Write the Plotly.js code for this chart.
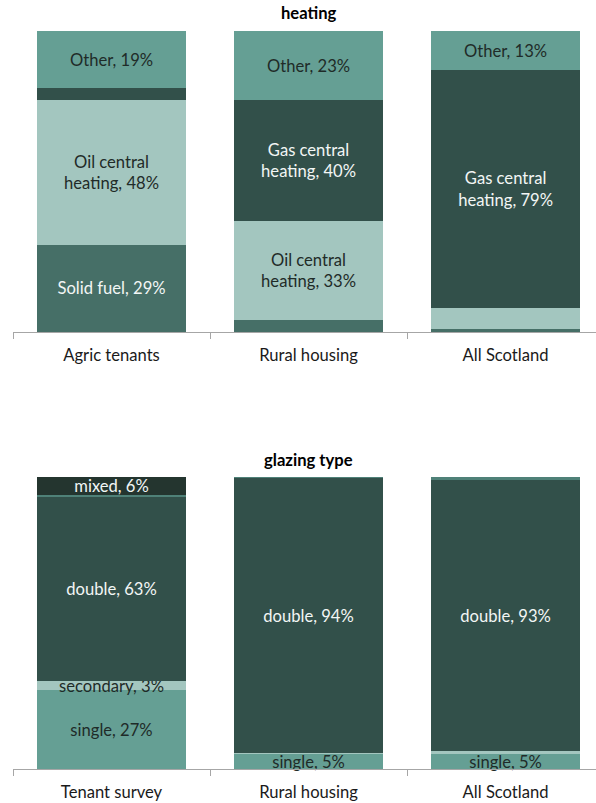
<!DOCTYPE html>
<html>
<head>
<meta charset="utf-8">
<script src="https://cdn.plot.ly/plotly-3.0.1.min.js"></script>
<style>
  html, body { margin: 0; padding: 0; background: #ffffff; }
  #chart { width: 596px; height: 803px; }
</style>
</head>
<body>
<div id="chart"></div>
<script>
// Heating: share of households by main heating type (%)
const heatingCategories = ["Agric tenants", "Rural housing", "All Scotland"];
const heatingSolidFuel = [29, 4, 1];
const heatingOilCentral = [48, 33, 7];
const heatingGasCentral = [4, 40, 79];
const heatingOther = [19, 23, 13];

// Which segments carry a text label
const heatingSolidFuelLabelled = [true, false, false];
const heatingOilCentralLabelled = [true, true, false];
const heatingGasCentralLabelled = [false, true, true];
const heatingOtherLabelled = [true, true, true];

// Glazing type: share of dwellings (%)
const glazingCategories = ["Tenant survey", "Rural housing", "All Scotland"];
const glazingSingle = [27, 5, 5];
const glazingSecondary = [3, 0.5, 1];
const glazingDouble = [63, 94, 93];
const glazingUnknown = [1, 0.5, 1];
const glazingMixed = [6, 0, 0];

const glazingSingleLabelled = [true, true, true];
const glazingSecondaryLabelled = [true, false, false];
const glazingDoubleLabelled = [true, true, true];
const glazingUnknownLabelled = [false, false, false];
const glazingMixedLabelled = [true, false, false];

const FONT = "Lato, 'Open Sans', sans-serif";
const FONT_SIZE = 16.6;
const DARK_TEXT = "#1f2b28";
const LIGHT_TEXT = "#f2f6f5";
const BAR_WIDTH = 0.756;

function labels(name, values, shown) {
  return values.map((v, i) => shown[i] ? name + ", " + v + "%" : "");
}

function segment(xCats, values, name, shown, color, textColor, axes) {
  return {
    type: "bar",
    x: xCats,
    y: values,
    name: name,
    width: xCats.map(() => BAR_WIDTH),
    marker: { color: color, line: { width: 0 } },
    text: labels(name.replace(" heating", "<br>heating"), values, shown),
    textposition: "inside",
    insidetextanchor: "middle",
    textangle: 0,
    constraintext: "none",
    cliponaxis: false,
    textfont: { family: FONT, size: FONT_SIZE, color: textColor },
    hoverinfo: "skip",
    showlegend: false,
    xaxis: axes[0],
    yaxis: axes[1]
  };
}

const heatingAxes = ["x", "y"];
const glazingAxes = ["x2", "y2"];

const traces = [
  segment(heatingCategories, heatingSolidFuel, "Solid fuel", heatingSolidFuelLabelled, "#466f67", LIGHT_TEXT, heatingAxes),
  segment(heatingCategories, heatingOilCentral, "Oil central heating", heatingOilCentralLabelled, "#a3c6bf", DARK_TEXT, heatingAxes),
  segment(heatingCategories, heatingGasCentral, "Gas central heating", heatingGasCentralLabelled, "#32504a", LIGHT_TEXT, heatingAxes),
  segment(heatingCategories, heatingOther, "Other", heatingOtherLabelled, "#659f94", DARK_TEXT, heatingAxes),

  segment(glazingCategories, glazingSingle, "single", glazingSingleLabelled, "#659f94", DARK_TEXT, glazingAxes),
  segment(glazingCategories, glazingSecondary, "secondary", glazingSecondaryLabelled, "#a3c6bf", DARK_TEXT, glazingAxes),
  segment(glazingCategories, glazingDouble, "double", glazingDoubleLabelled, "#32504a", LIGHT_TEXT, glazingAxes),
  segment(glazingCategories, glazingUnknown, "unknown", glazingUnknownLabelled, "#4f8178", LIGHT_TEXT, glazingAxes),
  segment(glazingCategories, glazingMixed, "mixed", glazingMixedLabelled, "#24352f", LIGHT_TEXT, glazingAxes)
];

const H = 803;
const frac = px => 1 - px / H;

function catAxis(anchor, cats) {
  return {
    type: "category",
    categoryorder: "array",
    categoryarray: cats,
    anchor: anchor,
    domain: [0, 1],
    range: [-0.5, 2.459],
    tickson: "boundaries",
    ticks: "outside",
    ticklen: 6,
    tickwidth: 1,
    tickcolor: "#a6a6a6",
    showline: true,
    linecolor: "#a6a6a6",
    linewidth: 1,
    showgrid: false,
    zeroline: false,
    ticklabelstandoff: 8,
    tickfont: { family: FONT, size: FONT_SIZE, color: "#1a1a1a" },
    automargin: false,
    fixedrange: true
  };
}

function valAxis(domain) {
  return {
    domain: domain,
    range: [0, 100],
    visible: false,
    showgrid: false,
    zeroline: false,
    fixedrange: true
  };
}

const layout = {
  width: 596,
  height: 803,
  margin: { l: 13, r: 0, t: 0, b: 0 },
  paper_bgcolor: "#ffffff",
  plot_bgcolor: "#ffffff",
  barmode: "stack",
  uniformtext: { mode: "show", minsize: FONT_SIZE },
  xaxis: catAxis("y", heatingCategories),
  yaxis: valAxis([frac(332), frac(31)]),
  xaxis2: catAxis("y2", glazingCategories),
  yaxis2: valAxis([frac(769), frac(477)]),
  annotations: [
    {
      text: "<b>heating</b>",
      xref: "x", x: 1,
      yref: "paper", y: frac(13),
      showarrow: false,
      xanchor: "center", yanchor: "middle",
      font: { family: FONT, size: FONT_SIZE, color: "#000000" }
    },
    {
      text: "<b>glazing type</b>",
      xref: "x2", x: 1,
      yref: "paper", y: frac(460),
      showarrow: false,
      xanchor: "center", yanchor: "middle",
      font: { family: FONT, size: FONT_SIZE, color: "#000000" }
    }
  ]
};

Plotly.newPlot("chart", traces, layout, { staticPlot: true, displayModeBar: false });
</script>
</body>
</html>
